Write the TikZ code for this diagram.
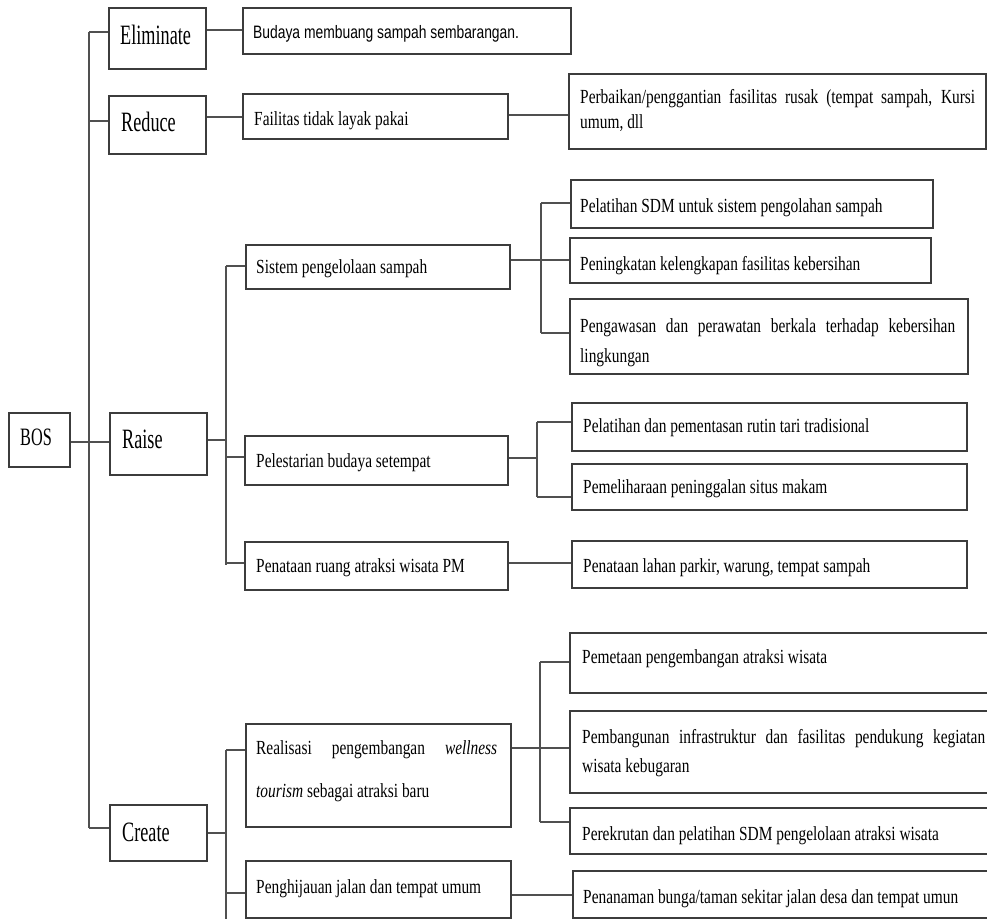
\documentclass[tikz,border=0pt]{standalone}
\usepackage{fontspec}
\newfontfamily\bigf{Liberation Serif}[FakeStretch=0.65]
\newfontfamily\smf{Liberation Serif}[FakeStretch=0.77]
\newfontfamily\sanf{Liberation Sans}[FakeStretch=0.77]
\definecolor{bx}{HTML}{3C3C3C}
\definecolor{cn}{HTML}{505050}
\hyphenpenalty=10000\relax
\exhyphenpenalty=10000\relax
\begin{document}
\begin{tikzpicture}[x=1pt,y=-1pt,
  box/.style={draw=bx, line width=1.8pt, inner sep=0pt, anchor=north west},
  conn/.style={draw=cn, line width=1.8pt},
  big/.style={font=\bigf\fontsize{28}{34}\selectfont, inner sep=0pt, anchor=base west},
  sm/.style={font=\smf\fontsize{20}{25}\selectfont, inner sep=0pt, anchor=base west},
  smml/.style={inner sep=0pt, anchor=base west, align=justify},
]
\useasboundingbox (0,0) rectangle (987,918);
\clip (0,0) rectangle (987,918);
\fill[white] (0,0) rectangle (987,918);

% ---- boxes ----
\node[box, minimum width=61pt, minimum height=54pt] (bos) at (8,412) {};
\node[box, minimum width=97pt, minimum height=61pt] (elim) at (108,7) {};
\node[box, minimum width=97pt, minimum height=58pt] (red) at (108,95) {};
\node[box, minimum width=97pt, minimum height=62pt] (raise) at (109,412) {};
\node[box, minimum width=97pt, minimum height=56pt] (create) at (109,804) {};
\node[box, minimum width=328pt, minimum height=46pt] (bud) at (242,7) {};
\node[box, minimum width=265pt, minimum height=45pt] (fail) at (242,93) {};
\node[box, minimum width=417pt, minimum height=75pt] (perb) at (568,73) {};
\node[box, minimum width=264pt, minimum height=44pt] (sis) at (245,244) {};
\node[box, minimum width=362pt, minimum height=48pt] (pel1) at (570,179) {};
\node[box, minimum width=361pt, minimum height=45pt] (pen1) at (569,237) {};
\node[box, minimum width=398pt, minimum height=75pt] (peng) at (569,298) {};
\node[box, minimum width=263pt, minimum height=49pt] (pls) at (244,435) {};
\node[box, minimum width=395pt, minimum height=48pt] (tari) at (571,402) {};
\node[box, minimum width=395pt, minimum height=46pt] (mak) at (571,463) {};
\node[box, minimum width=263pt, minimum height=48pt] (ruang) at (244,541) {};
\node[box, minimum width=395pt, minimum height=47pt] (lahan) at (571,540) {};
\node[box, minimum width=265pt, minimum height=103pt] (real) at (245,723) {};
\node[box, minimum width=265pt, minimum height=57pt] (hijau) at (245,860) {};
\node[box, minimum width=440pt, minimum height=60pt] (pmt) at (569,632) {};
\node[box, minimum width=440pt, minimum height=82pt] (pbg) at (569,710) {};
\node[box, minimum width=440pt, minimum height=46pt] (rekr) at (569,807) {};
\node[box, minimum width=440pt, minimum height=47pt] (tanam) at (572,870) {};

% ---- texts ----
\node[big, font=\bigf\fontsize{25}{30}\selectfont] (tbos) at (20,445) {BOS};
\node[big] (telim) at (120,44) {Eliminate};
\node[big] (tred) at (121,131) {Reduce};
\node[big] (traise) at (122,448) {Raise};
\node[big] (tcreate) at (122,841) {Create};
\node[inner sep=0pt, anchor=base west, font=\sanf\fontsize{18}{22}\selectfont] (tbud) at (253,38) {Budaya membuang sampah sembarangan.};
\node[sm] (tfail) at (254,125) {Failitas tidak layak pakai};
\node[smml, text width=395pt, font=\smf\fontsize{20}{25}\selectfont] (tperb) at (580,103) {Perbaikan/penggantian fasilitas rusak (tempat sampah, Kursi umum, dll};
\node[sm] (tsis) at (256,273) {Sistem pengelolaan sampah};
\node[sm] (tpel1) at (580,212) {Pelatihan SDM untuk sistem pengolahan sampah};
\node[sm] (tpen1) at (580,270) {Peningkatan kelengkapan fasilitas kebersihan};
\node[smml, text width=375pt, font=\smf\fontsize{20}{30}\selectfont] (tpeng) at (580,332) {Pengawasan dan perawatan berkala terhadap kebersihan lingkungan};
\node[sm] (tpls) at (256,467) {Pelestarian budaya setempat};
\node[sm] (ttari) at (583,432) {Pelatihan dan pementasan rutin tari tradisional};
\node[sm] (tmak) at (583,493) {Pemeliharaan peninggalan situs makam};
\node[sm] (truang) at (256,572) {Penataan ruang atraksi wisata PM};
\node[sm] (tlahan) at (583,572) {Penataan lahan parkir, warung, tempat sampah};
\node[smml, text width=241pt, font=\smf\fontsize{20}{43}\selectfont] (treal) at (256,754) {Realisasi pengembangan \textit{wellness tourism} sebagai atraksi baru};
\node[sm] (thijau) at (256,893) {Penghijauan jalan dan tempat umum};
\node[sm] (tpmt) at (582,663) {Pemetaan pengembangan atraksi wisata};
\node[smml, text width=403pt, font=\smf\fontsize{20}{29}\selectfont] (tpbg) at (582,743) {Pembangunan infrastruktur dan fasilitas pendukung kegiatan wisata kebugaran};
\node[sm] (trekr) at (582,840) {Perekrutan dan pelatihan SDM pengelolaan atraksi wisata};
\node[sm] (ttanam) at (583,903) {Penanaman bunga/taman sekitar jalan desa dan tempat umun};

% ---- main trunk ----
\coordinate (jE) at (89,32);
\coordinate (jR) at (89,121);
\coordinate (jB) at (89,442);
\coordinate (jC) at (89,828);
\draw[conn] (jE) -- (jC);
\draw[conn] (jE) -- (jE -| elim.west);
\draw[conn] (jR) -- (jR -| red.west);
\draw[conn] (jC) -- (jC -| create.west);
\draw[conn] (jB -| bos.east) -- (jB -| raise.west);

% ---- eliminate / reduce ----
\coordinate (hE) at (220,30);
\draw[conn] (hE -| elim.east) -- (hE -| bud.west);
\coordinate (hR) at (220,117);
\draw[conn] (hR -| red.east) -- (hR -| fail.west);
\coordinate (hF) at (530,115);
\draw[conn] (hF -| fail.east) -- (hF -| perb.west);

% ---- raise ----
\coordinate (k1) at (226,266);
\coordinate (kR) at (226,440);
\coordinate (k2) at (226,457);
\coordinate (k3) at (226,565);
\coordinate (k3b) at (226,563);
\draw[conn] (kR -| raise.east) -- (kR);
\draw[conn] (k1) -- (k3);
\draw[conn] (k1) -- (k1 -| sis.west);
\draw[conn] (k2) -- (k2 -| pls.west);
\draw[conn] (k3b) -- (k3b -| ruang.west);

% sistem children
\coordinate (s1) at (541,203);
\coordinate (s2) at (541,260);
\coordinate (s3) at (541,333);
\draw[conn] (s1) -- (s3);
\draw[conn] (s2 -| sis.east) -- (s2 -| pen1.west);
\draw[conn] (s1) -- (s1 -| pel1.west);
\draw[conn] (s3) -- (s3 -| peng.west);

% pelestarian children
\coordinate (p0) at (537,458);
\coordinate (p1) at (537,422);
\coordinate (p2) at (537,497);
\draw[conn] (p0 -| pls.east) -- (p0);
\draw[conn] (p1) -- (p2);
\draw[conn] (p1) -- (p1 -| tari.west);
\draw[conn] (p2) -- (p2 -| mak.west);

% ruang -> lahan
\draw[conn] (k3b -| ruang.east) -- (k3b -| lahan.west);

% ---- create ----
\coordinate (c0) at (226,833);
\coordinate (c1) at (226,750);
\coordinate (c2) at (226,893);
\coordinate (c3) at (226,925);
\draw[conn] (c0 -| create.east) -- (c0);
\draw[conn] (c1) -- (c3);
\draw[conn] (c1) -- (c1 -| real.west);
\draw[conn] (c2) -- (c2 -| hijau.west);

\coordinate (r0) at (540,748);
\coordinate (r1) at (540,662);
\coordinate (r2) at (540,822);
\draw[conn] (r0 -| real.east) -- (r0 -| pbg.west);
\draw[conn] (r1) -- (r2);
\draw[conn] (r1) -- (r1 -| pmt.west);
\draw[conn] (r2) -- (r2 -| rekr.west);

\coordinate (h0) at (540,895);
\draw[conn] (h0 -| hijau.east) -- (h0 -| tanam.west);
\end{tikzpicture}
\end{document}
